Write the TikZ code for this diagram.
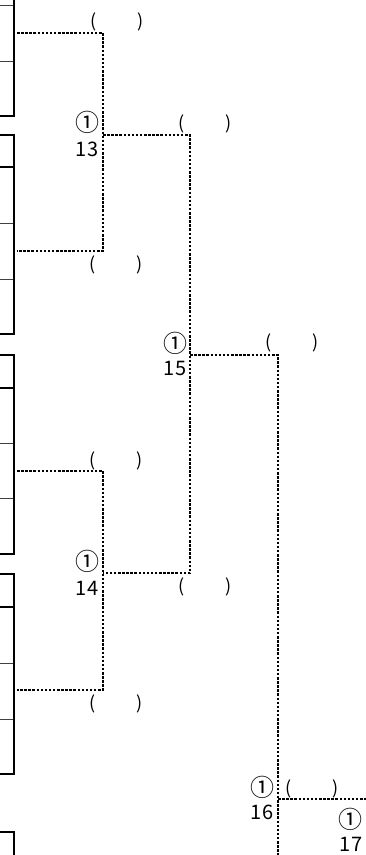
\documentclass[tikz,border=0pt]{standalone}
\usepackage{fontspec}
\setmainfont{Noto Sans CJK JP}
\begin{document}
\begin{tikzpicture}[x=1pt,y=-1pt,
  boxline/.style={line width=2.2pt},
  thinline/.style={line width=1pt,black!75},
  wire/.style={line width=2.2pt,dash pattern=on 2.5pt off 1.6pt},
  lbl/.style={inner sep=0pt,font=\fontsize{20}{22}\selectfont},
  circ/.style={inner sep=0pt,font=\fontsize{24}{26}\selectfont},
  score/.style={inner sep=0pt,font=\fontsize{18}{20}\selectfont}]
\clip (0,0) rectangle (366,855);
% entry boxes (left edge)
% group A (cut at top)
\draw[boxline] (14,-5) -- (14,116) -- (-5,116);
\draw[thinline] (-5,5) -- (13,5) (-5,61) -- (13,61);
% group B
\draw[boxline] (-5,135) -- (14,135) -- (14,334) -- (-5,334);
\draw[boxline] (-5,167) -- (14,167);
\draw[thinline] (-5,223) -- (13,223) (-5,279) -- (13,279);
% group C
\draw[boxline] (-5,355) -- (14,355) -- (14,554) -- (-5,554);
\draw[boxline] (-5,388) -- (14,388);
\draw[thinline] (-5,443) -- (13,443) (-5,498) -- (13,498);
% group D
\draw[boxline] (-5,574) -- (14,574) -- (14,774) -- (-5,774);
\draw[boxline] (-5,607) -- (14,607);
\draw[thinline] (-5,663) -- (13,663) (-5,719) -- (13,719);
% group E (cut at bottom)
\draw[boxline] (-5,832) -- (14,832) -- (14,870);
% connector points
\coordinate (e1) at (17,33);
\coordinate (e2) at (17,251);
\coordinate (e3) at (17,471);
\coordinate (e4) at (17,690);
\coordinate (j13a) at (103,33);
\coordinate (j13b) at (103,251);
\coordinate (o13) at (103,135);
\coordinate (j14a) at (103,471);
\coordinate (j14b) at (103,690);
\coordinate (o14) at (103,573);
\coordinate (j15a) at (190,135);
\coordinate (j15b) at (190,573);
\coordinate (o15) at (190,355);
\coordinate (j16a) at (278,355);
\coordinate (j16b) at (278,870);
\coordinate (o16) at (278,799);
\coordinate (j17) at (372,799);
% connectors
\draw[wire] (e1) -- (j13a) -- (j13b) -- (e2);
\draw[wire] (e3) -- (j14a) -- (j14b) -- (e4);
\draw[wire] (o13) -- (j15a) -- (j15b) -- (o14);
\draw[wire] (o15) -- (j16a) -- (j16b);
\draw[wire] (o16) -- (j17);
% match labels
\node[circ] (c13) at (87,122) {①};
\node[lbl] (n13) at (87,149) {13};
\node[circ] (c14) at (87,561) {①};
\node[lbl] (n14) at (87,588) {14};
\node[circ] (c15) at (175,343) {①};
\node[lbl] (n15) at (175,368) {15};
\node[circ] (c16) at (262,787) {①};
\node[lbl] (n16) at (262,812) {16};
\node[circ] (c17) at (350,819) {①};
\node[lbl] (n17) at (351,844) {17};
% score boxes
\node[score] (s1) at (117,22) {\makebox[54pt]{(\hfill)}};
\node[score] (s2) at (116,265) {\makebox[54pt]{(\hfill)}};
\node[score] (s3) at (116,461) {\makebox[54pt]{(\hfill)}};
\node[score] (s4) at (116,704) {\makebox[54pt]{(\hfill)}};
\node[score] (s5) at (205,124) {\makebox[54pt]{(\hfill)}};
\node[score] (s6) at (205,587) {\makebox[54pt]{(\hfill)}};
\node[score] (s7) at (292,343) {\makebox[54pt]{(\hfill)}};
\node[score] (s8) at (312,789) {\makebox[54pt]{(\hfill)}};
\end{tikzpicture}
\end{document}
